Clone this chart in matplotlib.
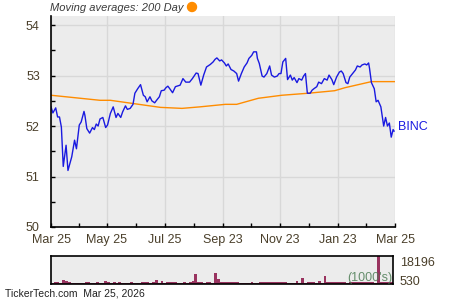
import numpy as np
import matplotlib
matplotlib.use('Agg')
import matplotlib.pyplot as plt

plt.rcParams['font.family'] = ['Liberation Sans', 'DejaVu Sans']

# price data (days since start, close)
price_days = [0, 2, 5, 7, 9, 11, 13, 16, 18, 22, 25, 27, 30, 32, 35, 36, 38, 41, 44, 46,
              48, 50, 52, 55, 58, 60, 63, 66, 69, 71, 74, 76, 79, 81, 84, 87, 89, 92, 95, 98,
              100, 102, 105, 107, 110, 112, 115, 117, 120, 122, 124, 126, 129, 132, 137, 140, 143, 147, 150, 154,
              156, 159, 162, 165, 169, 172, 174, 176, 179, 181, 184, 186, 188, 191, 194, 197, 199, 202, 205, 208,
              210, 213, 215, 218, 219, 221, 224, 226, 229, 232, 234, 237, 240, 242, 244, 246, 249, 251, 254, 256,
              258, 261, 263, 266, 268, 270, 272, 275, 277, 279, 282, 284, 287, 290, 293, 295, 298, 300, 303, 306,
              308, 310, 313, 315, 317, 320, 323, 325, 328, 330, 333, 335, 337, 338, 340, 343, 345, 347, 350, 353,
              355, 357, 359, 361, 363, 364]
price = [52.38, 52.26, 52.36, 52.18, 52.18, 51.98, 51.20, 51.62, 51.12, 51.39, 51.72, 51.55, 52.02, 52.08, 52.29, 52.21, 51.95, 51.86, 51.97, 51.93,
         52.04, 52.00, 52.14, 52.17, 51.97, 52.02, 52.25, 52.38, 52.17, 52.25, 52.17, 52.28, 52.40, 52.33, 52.35, 52.43, 52.65, 52.74, 52.82, 52.61,
         52.58, 52.48, 52.58, 52.50, 52.46, 52.51, 52.58, 52.70, 52.71, 52.76, 52.79, 52.74, 52.66, 52.78, 52.81, 52.94, 52.87, 52.87, 52.94, 53.05,
         53.04, 52.81, 53.01, 53.17, 53.22, 53.27, 53.32, 53.35, 53.29, 53.31, 53.25, 53.19, 53.23, 53.12, 53.09, 53.04, 52.89, 53.04, 53.17, 53.25,
         53.34, 53.40, 53.47, 53.47, 53.34, 53.24, 52.99, 52.97, 53.04, 53.19, 53.01, 52.97, 52.99, 53.04, 53.04, 53.27, 53.34, 52.92, 53.01, 52.91,
         52.96, 52.86, 52.94, 52.91, 52.99, 53.04, 52.65, 52.65, 52.71, 52.74, 52.78, 52.87, 52.84, 52.94, 52.91, 53.01, 52.92, 52.82, 52.97, 53.07,
         53.09, 53.04, 52.86, 52.84, 52.97, 53.04, 53.11, 53.19, 53.17, 53.21, 53.23, 53.21, 53.25, 53.14, 52.86, 52.74, 52.48, 52.51, 52.38, 52.00,
         52.17, 52.00, 52.06, 51.78, 51.93, 51.90]

# 200 day moving average
ma_days = [0, 52, 63, 116, 139, 158, 185, 197, 220, 245, 273, 301, 312, 340, 365]
ma = [52.61, 52.51, 52.51, 52.37, 52.35, 52.38, 52.43, 52.43, 52.55, 52.61, 52.65, 52.70, 52.76, 52.88, 52.88]

# volume (1000's), one bar every 3 days
vol_days = list(range(0, 366, 3))
vol = [500, 1100, 1100, 600, 2800, 1700, 1200, 600, 600, 600, 900, 500, 1000, 1000, 500, 500, 1300, 500, 500, 1700,
       1000, 500, 1000, 500, 1100, 500, 500, 600, 1000, 500, 500, 600, 1100, 1100, 1300, 700, 1300, 2800, 700, 1700,
       500, 1000, 1000, 1000, 1000, 600, 600, 1100, 700, 1300, 2200, 6500, 1100, 1100, 800, 1300, 1300, 900, 7000, 3500,
       1300, 1300, 1000, 1000, 1000, 1000, 1000, 700, 700, 700, 700, 1300, 700, 700, 1000, 1000, 1000, 1000, 1000, 1000,
       1000, 1000, 1000, 1000, 700, 700, 700, 1700, 800, 3900, 900, 1000, 1000, 1000, 700, 2200, 800, 5000, 1200, 1100,
       1100, 1100, 1100, 1100, 1100, 800, 1000, 1000, 1000, 1000, 1000, 1000, 1000, 1000, 1000, 900, 18196, 1500, 1500, 1000,
       1000, 1000]

xtick_pos = [0, 59, 121, 182, 243, 304, 365]
xtick_labels = ['Mar 25', 'May 25', 'Jul 25', 'Sep 23', 'Nov 23', 'Jan 23', 'Mar 25']

txt_col = '#4a3f2a'
bg = '#ececec'
grid_col = '#d8d8d8'

fig = plt.figure(figsize=(4.5, 3), dpi=100)
ax = fig.add_axes([51/450, 1-227/300, 344/450, 211/300])
ax.set_facecolor(bg)
ax.plot(ma_days, ma, color='#ff8c00', lw=1)
ax.plot(price_days, price, color='#1a1ae0', lw=1)
ax.set_xlim(0, 365)
ax.set_ylim(50, 54.18)
ax.set_yticks([50, 51, 52, 53, 54])
ax.set_yticks([50.5, 51.5, 52.5, 53.5], minor=True)
ax.set_xticks(xtick_pos)
ax.set_xticklabels(xtick_labels)
ax.set_xticks([(a + b) / 2 for a, b in zip(xtick_pos[:-1], xtick_pos[1:])], minor=True)
ax.grid(True, which='major', color=grid_col, lw=1)
ax.set_axisbelow(True)
for s in ['top', 'right']:
    ax.spines[s].set_visible(False)
for s in ['left', 'bottom']:
    ax.spines[s].set_linewidth(1.2)
ax.tick_params(which='both', direction='in', length=3, width=1, colors='black',
               labelcolor=txt_col, labelsize=9)
ax.tick_params(axis='y', pad=8)
ax.tick_params(axis='x', pad=5)
ax.text(1.008, 0.474, 'BINC', transform=ax.transAxes, color='#1a1ae0', fontsize=9,
        va='center', ha='left')

# volume panel
vax = fig.add_axes([51/450, 1-284/300, 342/450, 28/300])
vax.set_facecolor(bg)
vax.bar(vol_days, vol, width=3, color='#99335f', align='edge')
vax.set_xlim(0, 365)
vax.set_ylim(0, 18196)
vax.set_xticks([])
vax.set_yticks([])
for s in vax.spines.values():
    s.set_linewidth(1.2)
vax.text(1.02, 0.75, '18196', transform=vax.transAxes, color=txt_col, fontsize=9, va='center')
vax.text(1.02, 0.07, '530', transform=vax.transAxes, color=txt_col, fontsize=9, va='center')
vax.text(0.997, 0.0, "(1000's)", transform=vax.transAxes, color='#4d7d55', fontsize=9,
         ha='right', va='bottom', alpha=0.85)

fig.text(50/450, 1-8/300, 'Moving averages: 200 Day', fontsize=8, style='italic',
         color='#3a3a3a', va='center', ha='left')
fig.patches.append(matplotlib.patches.Ellipse((192/450, 1-7/300), 9/450, 9/300,
                                              transform=fig.transFigure, color='#ff8c00'))
fig.text(5/450, 1-293/300, 'TickerTech.com  Mar 25, 2026', fontsize=7.5, color='#222222',
         va='center', ha='left')

fig.savefig('out.png', dpi=100)
